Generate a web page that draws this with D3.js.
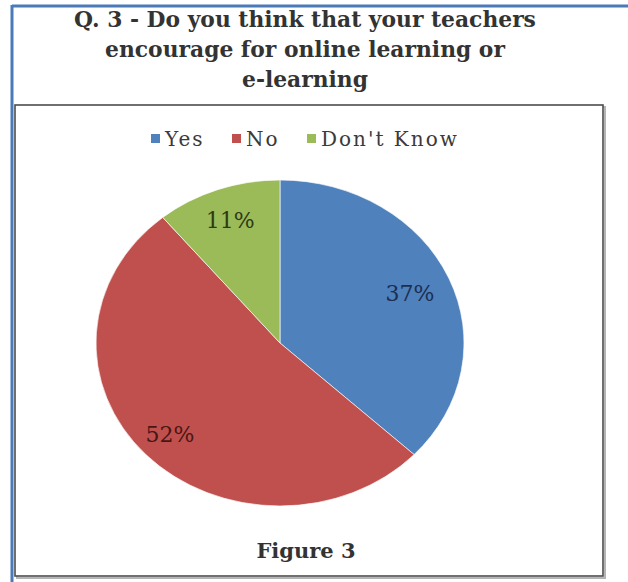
<!DOCTYPE html>
<html>
<head>
<meta charset="utf-8">
<script src="https://cdn.jsdelivr.net/npm/d3@7"></script>
<style>
  html, body { margin: 0; padding: 0; background: #ffffff; }
  svg { display: block; }
</style>
</head>
<body>
<svg id="chart" width="628" height="582"></svg>
<script>
// ---- data ----
const titleLines = ["Q. 3 - Do you think that your teachers", "encourage for online learning or", "e-learning"];
const categories = ["Yes", "No", "Don't Know"];
const values = [37, 52, 11];
const labels = ["37%", "52%", "11%"];
const colors = ["#4F81BD", "#C0504D", "#9BBB59"];
const labelColors = ["#1c2f52", "#4a1614", "#2e3a14"];
const caption = "Figure 3";

const svg = d3.select("#chart");

// outer blue frame (left and top edges visible)
svg.append("line").attr("x1", 12).attr("y1", 6).attr("x2", 628).attr("y2", 6)
  .attr("stroke", "#4a7ab8").attr("stroke-width", 3);
svg.append("line").attr("x1", 12).attr("y1", 5).attr("x2", 12).attr("y2", 582)
  .attr("stroke", "#4a7ab8").attr("stroke-width", 3);

// inner chart box with slight shadow
const bx = 15, by = 105, bw = 588, bh = 471;
svg.append("rect").attr("x", bx + 2).attr("y", by + 2).attr("width", bw).attr("height", bh)
  .attr("fill", "none").attr("stroke", "#b5b5b5").attr("stroke-width", 2);
svg.append("rect").attr("x", bx).attr("y", by).attr("width", bw).attr("height", bh)
  .attr("fill", "#ffffff").attr("stroke", "#4d4d4d").attr("stroke-width", 1.6);

// title
const title = svg.append("text")
  .attr("text-anchor", "middle")
  .attr("font-family", "'DejaVu Serif', 'Liberation Serif', serif")
  .attr("font-weight", "bold")
  .attr("font-size", 21)
  .attr("fill", "#333333");
const titleBase = [27, 57, 87];
titleLines.forEach((t, i) => {
  title.append("tspan").attr("x", 305).attr("y", titleBase[i]).text(t);
});
// fit first line to the reference width
const w0 = title.select("tspan").node().getComputedTextLength();
title.attr("font-size", 21 * 462 / w0);

// legend
const legend = svg.append("g").attr("font-family", "'DejaVu Serif', serif").attr("font-size", 20)
  .attr("fill", "#3a3a3a").attr("letter-spacing", 2);
const legendX = [151, 232, 307];
categories.forEach((c, i) => {
  legend.append("rect").attr("x", legendX[i]).attr("y", 134).attr("width", 9).attr("height", 9).attr("fill", colors[i]);
  legend.append("text").attr("x", legendX[i] + 14).attr("y", 146).text(c);
});

// pie (slightly stretched horizontally, as in the reference)
const cx = 280, cy = 343, ry = 163, rx = 184;
const pie = d3.pie().sort(null).value(d => d)(values);
const arc = d3.arc().innerRadius(0).outerRadius(ry);
const g = svg.append("g").attr("transform", `translate(${cx},${cy}) scale(${rx / ry},1)`);
g.selectAll("path").data(pie).join("path")
  .attr("d", arc)
  .attr("fill", (d, i) => colors[i])
  .attr("stroke", "#ffffff").attr("stroke-width", 0.6);

// percent labels, placed along each slice's mid-angle
const labelRadius = [0.77, 0.82, 0.80];
const lg = svg.append("g").attr("transform", `translate(${cx},${cy})`);
pie.forEach((d, i) => {
  const a = (d.startAngle + d.endAngle) / 2;
  const r = labelRadius[i];
  lg.append("text")
    .attr("x", Math.sin(a) * rx * r)
    .attr("y", -Math.cos(a) * ry * r)
    .attr("dy", "0.35em")
    .attr("text-anchor", "middle")
    .attr("font-family", "'DejaVu Serif', serif")
    .attr("font-size", 22)
    .attr("fill", labelColors[i])
    .text(labels[i]);
});

// caption
svg.append("text").attr("x", 306).attr("y", 558)
  .attr("text-anchor", "middle")
  .attr("font-family", "'DejaVu Serif', 'Liberation Serif', serif")
  .attr("font-weight", "bold").attr("font-size", 21)
  .attr("fill", "#333333").text(caption);
</script>
</body>
</html>
